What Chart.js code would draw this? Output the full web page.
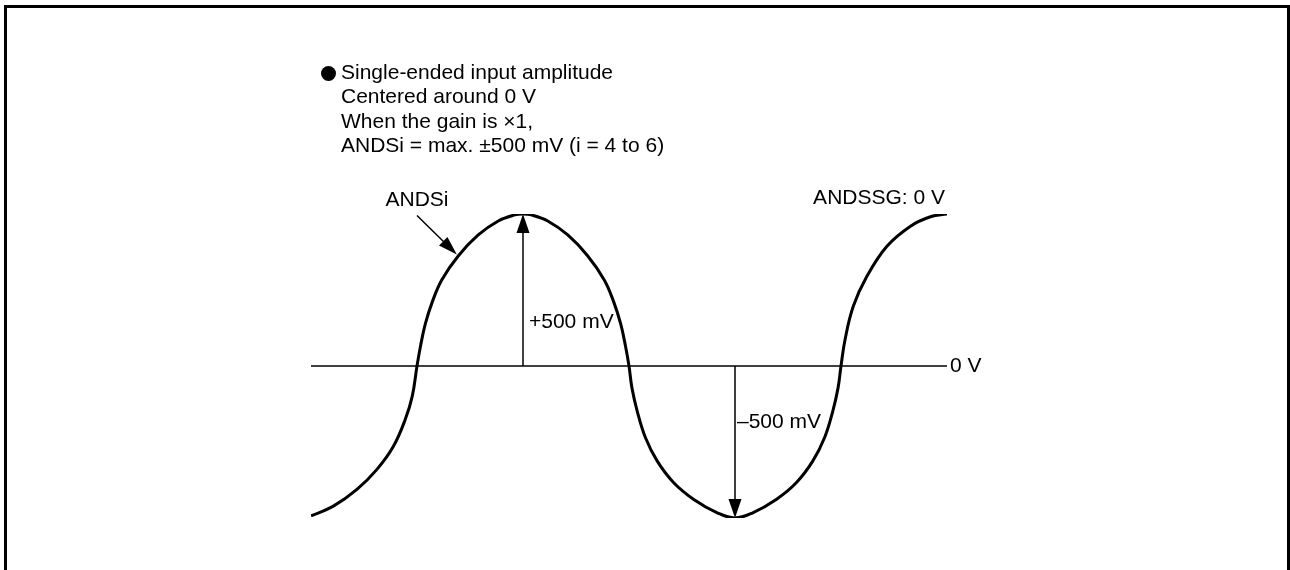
<!DOCTYPE html>
<html>
<head>
<meta charset="utf-8">
<script src="https://cdn.jsdelivr.net/npm/chart.js@4.4.1/dist/chart.umd.min.js"></script>
<style>
  html, body { margin: 0; padding: 0; background: #fff; }
  #wrap { position: relative; width: 1290px; height: 570px; }
</style>
</head>
<body>
<div id="wrap"><canvas id="chart" width="1290" height="570"></canvas></div>
<script>
// Форма сигнала ANDSi: фаза (градусы) и амплитуда (мВ)
const phaseDeg = [-90, -71, -51, -34, -20, -10, -4, 0, 3, 7, 13, 21, 35, 52, 69, 83, 90,
    97, 111, 128, 145, 159, 167, 173, 177, 180, 182.5, 187, 194, 204, 218, 235, 255, 270,
    285, 305, 322, 336, 346, 353, 357.5, 360, 363.5, 370.5, 382, 399, 419, 436, 450];
const inputMv = [-493, -461, -406, -340, -264, -176, -99, 0, 66, 138, 211, 283, 362, 431, 477, 497, 500,
    497, 477, 431, 362, 283, 211, 138, 66, 0, -72, -149, -236, -313, -384, -439, -483, -500,
    -483, -439, -384, -313, -236, -149, -72, 0, 88, 197, 295, 394, 460, 491, 500];

// Пиковые значения со стрелками
const markerPhase = [90, 270];
const markerMv = [500, -500];
const markerLabels = ['+500 mV', '\u2013500 mV'];

// Подписи
const noteLines = [
    'Single-ended input amplitude',
    'Centered around 0 V',
    'When the gain is \u00d71,',
    'ANDSi = max. \u00b1500 mV (i = 4 to 6)'
];
const signalLabel = 'ANDSi';
const groundLabel = 'ANDSSG: 0 V';
const zeroLabel = '0 V';

const FONT = '21px "Liberation Sans", Arial, sans-serif';

// Залитый наконечник стрелки, остриё в (x, y)
function arrowHead(ctx, x, y, angle, w, h) {
    ctx.save();
    ctx.translate(x, y);
    ctx.rotate(angle);
    ctx.beginPath();
    ctx.moveTo(0, 0);
    ctx.lineTo(-h, -w / 2);
    ctx.lineTo(-h, w / 2);
    ctx.closePath();
    ctx.fill();
    ctx.restore();
}

// Рамка, стрелки и текст
const annotations = {
    id: 'annotations',
    afterDatasetsDraw(chart) {
        const ctx = chart.ctx;
        const xs = chart.scales.x;
        const ys = chart.scales.y;
        const y0 = ys.getPixelForValue(0);

        ctx.save();
        ctx.fillStyle = '#000';
        ctx.strokeStyle = '#000';

        // рамка без нижней стороны
        ctx.lineWidth = 3;
        ctx.beginPath();
        ctx.moveTo(5.5, 570);
        ctx.lineTo(5.5, 6.5);
        ctx.lineTo(1288.5, 6.5);
        ctx.lineTo(1288.5, 570);
        ctx.stroke();

        // наконечники вертикальных стрелок
        markerPhase.forEach((p, i) => {
            const px = xs.getPixelForValue(p);
            const py = ys.getPixelForValue(markerMv[i]);
            arrowHead(ctx, px, py, markerMv[i] > 0 ? -Math.PI / 2 : Math.PI / 2, 13, 19);
        });

        ctx.font = FONT;
        ctx.textBaseline = 'middle';

        // подписи амплитуд
        ctx.textAlign = 'left';
        ctx.fillText(markerLabels[0], xs.getPixelForValue(markerPhase[0]) + 6, y0 - 44);
        ctx.fillText(markerLabels[1], xs.getPixelForValue(markerPhase[1]) + 2, y0 + 56);

        // 0 V справа от оси
        ctx.fillText(zeroLabel, xs.right + 3, y0);

        // ANDSSG справа сверху
        ctx.textAlign = 'right';
        ctx.fillText(groundLabel, xs.right - 2, ys.top - 16);

        // выноска ANDSi
        const sx = xs.getPixelForValue(0);
        const sy = ys.getPixelForValue(495);
        const tx = xs.getPixelForValue(phaseDeg[12]);
        const ty = ys.getPixelForValue(inputMv[12]);
        const ang = Math.atan2(ty - sy, tx - sx);
        ctx.lineWidth = 1.5;
        ctx.beginPath();
        ctx.moveTo(sx, sy);
        ctx.lineTo(tx - 10 * Math.cos(ang), ty - 10 * Math.sin(ang));
        ctx.stroke();
        arrowHead(ctx, tx - 2 * Math.cos(ang), ty - 2 * Math.sin(ang), ang, 12, 19);
        ctx.textAlign = 'center';
        ctx.fillText(signalLabel, sx, sy - 15);

        // блок пояснений
        ctx.beginPath();
        ctx.arc(328.5, 73.5, 7.5, 0, Math.PI * 2);
        ctx.fill();
        ctx.textAlign = 'left';
        noteLines.forEach((line, i) => {
            ctx.fillText(line, 341, 73 + i * 24.5);
        });

        ctx.restore();
    }
};

const curve = phaseDeg.map((p, i) => ({ x: p, y: inputMv[i] }));
const zeroAxis = [{ x: phaseDeg[0], y: 0 }, { x: phaseDeg[phaseDeg.length - 1], y: 0 }];

const datasets = [
    {
        data: zeroAxis,
        showLine: true,
        borderColor: '#000',
        borderWidth: 1.5,
        pointRadius: 0
    },
    {
        data: curve,
        showLine: true,
        borderColor: '#000',
        borderWidth: 3,
        pointRadius: 0,
        tension: 0.4
    }
];

// стержни стрелок от нуля до пика
markerPhase.forEach((p, i) => {
    datasets.push({
        data: [{ x: p, y: 0 }, { x: p, y: markerMv[i] * 0.94 }],
        showLine: true,
        borderColor: '#000',
        borderWidth: 1.5,
        pointRadius: 0
    });
});

new Chart(document.getElementById('chart'), {
    type: 'scatter',
    data: { datasets },
    options: {
        responsive: false,
        animation: false,
        layout: { padding: { left: 311, right: 343, top: 214, bottom: 52 } },
        plugins: { legend: { display: false }, tooltip: { enabled: false } },
        scales: {
            x: { type: 'linear', display: false, min: -90, max: 450 },
            y: { type: 'linear', display: false, min: -500, max: 500 }
        }
    },
    plugins: [annotations]
});
</script>
</body>
</html>
